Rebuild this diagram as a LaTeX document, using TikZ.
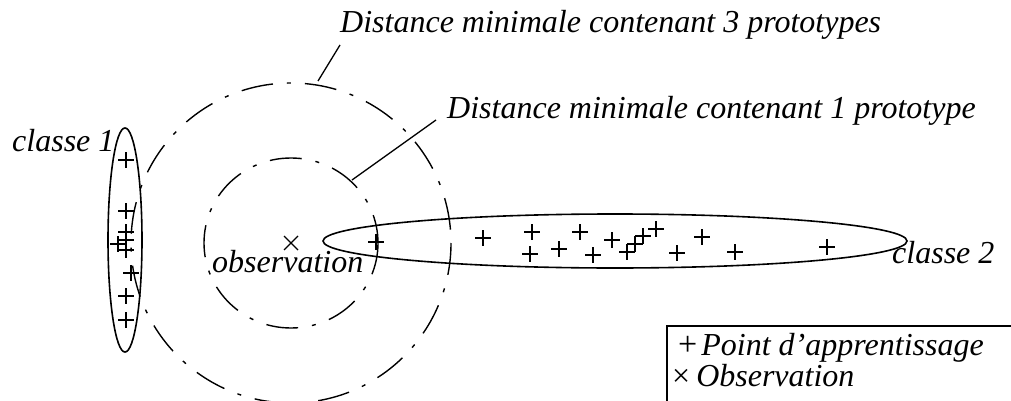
\documentclass[tikz,border=0pt]{standalone}
\usepackage{fontspec}
\setmainfont{Liberation Serif}
\usetikzlibrary{calc}
\begin{document}
\begin{tikzpicture}[x=1pt,y=-1pt,
  lbl/.style={anchor=base west,inner sep=0pt,font=\fontsize{32}{38}\selectfont\itshape},
  classline/.style={line width=1.6pt},
  distcircle/.style={line width=1.4pt,dash pattern=on 32pt off 14pt on 4pt off 14pt},
  leader/.style={line width=1.3pt},
  pt/.pic={\draw[line width=2.4pt] (-8,0)--(8,0) (0,-8)--(0,8);}]
\path[use as bounding box] (0,0) rectangle (1011,401);
\clip (0,0) rectangle (1011,401);
% observation and circles
\coordinate (obs) at (291,243);
\draw[line width=1.1pt] ($(obs)+(-7,-7)$)--($(obs)+(7,7)$) ($(obs)+(-7,7)$)--($(obs)+(7,-7)$);
\draw[distcircle] (obs) circle[x radius=87, y radius=85];
\draw[distcircle] (obs) circle[radius=160];
% class ellipses
\coordinate (c1) at (125,240);
\coordinate (c2) at (615,241);
\draw[classline] (c1) ellipse[x radius=17, y radius=112];
\draw[classline] (c2) ellipse[x radius=292, y radius=27];
% training points class 1
\foreach \p in {(126,160),(126,211),(126,232),(126,240),(118,244),(126,250),(131,273),(126,296),(126,320)}
  \pic at \p {pt};
% training points class 2
\foreach \p in {(376,242),(483,238),(532,232),(530,254),(559,249),(580,232),(593,255),(612,240),(627,252),(635,244),(643,236),(656,229),(677,253),(702,237),(735,252),(827,247)}
  \pic at \p {pt};
% labels
\node[lbl] (t3) at (340,33) {Distance minimale contenant 3 prototypes};
\node[lbl] (t1) at (447,118) {Distance minimale contenant 1 prototype};
\node[lbl] (k1) at (12,151) {classe 1};
\node[lbl] (k2) at (892,263) {classe 2};
\node[lbl] (ob) at (212,272) {observation};
% leaders
\coordinate (l3a) at (340,45);
\coordinate (l3b) at (318,81);
\coordinate (l1a) at (436,120);
\coordinate (l1b) at (352,180);
\draw[leader] (l3a)--(l3b);
\draw[leader] (l1a)--(l1b);
% legend
\draw[line width=2.4pt] (667,326) rectangle (1030,420);
\node[lbl] (lg1) at (678,355) {\upshape\fontsize{34}{38}\selectfont+\hspace{4pt}\fontsize{32}{38}\selectfont\itshape Point d’apprentissage};
\node[lbl] (lg2) at (672,386) {\upshape×\hspace{6pt}\itshape Observation};
\end{tikzpicture}
\end{document}
